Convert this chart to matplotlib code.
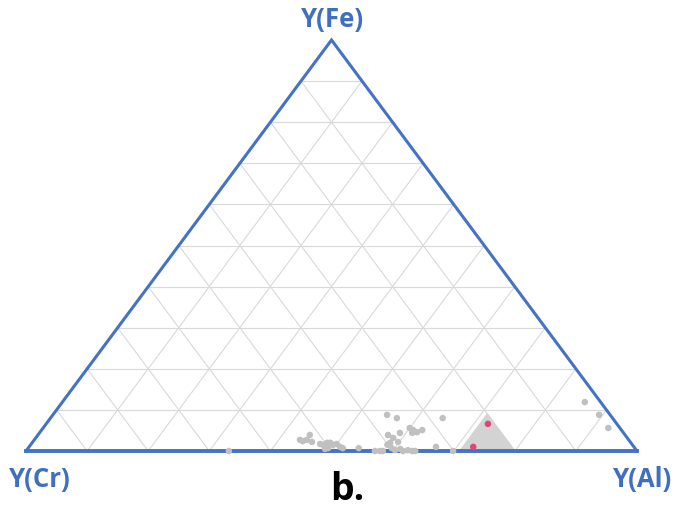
import matplotlib
matplotlib.use('Agg')
import matplotlib.pyplot as plt
import numpy as np

# ternary compositions: Y(Al), Y(Fe); Y(Cr) = 1 - Al - Fe
gray_al = [0.435, 0.441, 0.445, 0.457, 0.446, 0.473, 0.479, 0.483, 0.488, 0.495,
           0.500, 0.509, 0.515, 0.487, 0.491, 0.541, 0.571, 0.547, 0.567, 0.573,
           0.590, 0.585, 0.600, 0.608, 0.617, 0.623, 0.610, 0.598, 0.586, 0.584,
           0.595, 0.603, 0.610, 0.617, 0.624, 0.632, 0.637, 0.584, 0.666, 0.642,
           0.699, 0.579, 0.855, 0.894, 0.925, 0.332]
gray_fe = [0.027, 0.024, 0.039, 0.022, 0.027, 0.017, 0.015, 0.020, 0.020, 0.015,
           0.017, 0.010, 0.007, 0.005, 0.007, 0.007, 0.000, 0.088, 0.080, 0.039,
           0.044, 0.032, 0.056, 0.051, 0.046, 0.051, 0.044, 0.022, 0.020, 0.015,
           0.007, 0.002, 0.005, 0.000, 0.002, 0.000, 0.000, 0.000, 0.010, 0.080,
           0.000, 0.000, 0.119, 0.088, 0.056, 0.000]
pink_al = [0.723, 0.727]
pink_fe = [0.066, 0.010]
# shaded field: Al >= 0.71, Cr >= 0.2
field_al = [0.71, 0.80, 0.71]
field_fe = [0.00, 0.00, 0.09]


def xy(al, fe):
    al = np.asarray(al, float)
    fe = np.asarray(fe, float)
    return al + fe / 2, fe


W, H = 684, 516
fig = plt.figure(figsize=(W / 100, H / 100), dpi=100)
left, right, top, base = 26, 637, 40, 451
ax = fig.add_axes([left / W, (H - base) / H, (right - left) / W, (base - top) / H])
ax.set_xlim(0, 1)
ax.set_ylim(0, 1)
ax.axis('off')

gridc = '#d9d9d9'
for k in range(1, 10):
    t = k / 10
    # constant Fe
    x0, y0 = xy(0, t)
    x1, y1 = xy(1 - t, t)
    ax.plot([x0, x1], [y0, y1], color=gridc, lw=0.8, zorder=1)
    # constant Al
    x0, y0 = xy(t, 0)
    x1, y1 = xy(t, 1 - t)
    ax.plot([x0, x1], [y0, y1], color=gridc, lw=0.8, zorder=1)
    # constant Cr
    x0, y0 = xy(1 - t, 0)
    x1, y1 = xy(0, 1 - t)
    ax.plot([x0, x1], [y0, y1], color=gridc, lw=0.8, zorder=1)

fx, fy = xy(field_al, field_fe)
ax.fill(fx, fy, color='#d3d3d3', zorder=2)

blue = '#4472c4'
ax.plot([0, 0.5, 1], [0, 1, 0], color=blue, lw=2.2, zorder=3, clip_on=False,
        solid_joinstyle='miter')
ax.plot([0, 1], [0, 0], color=blue, lw=2.8, zorder=3, clip_on=False)

gx, gy = xy(gray_al, gray_fe)
ax.scatter(gx, gy, s=22, color='#c0c0c0', edgecolors='none', zorder=4, clip_on=False)
px, py = xy(pink_al, pink_fe)
ax.scatter(px, py, s=22, color='#e0457a', edgecolors='none', zorder=5)

font = ['Open Sans', 'DejaVu Sans']
lab = '#3f6fbf'
fig.text(333 / W, 1 - 20 / H, 'Y(Fe)', color=lab, fontsize=18.5, fontweight='bold',
         family=font, ha='center', va='center')
fig.text(40 / W, 1 - 480 / H, 'Y(Cr)', color=lab, fontsize=18.5, fontweight='bold',
         family=font, ha='center', va='center')
fig.text(643 / W, 1 - 480 / H, 'Y(Al)', color=lab, fontsize=18.5, fontweight='bold',
         family=font, ha='center', va='center')
fig.text(347 / W, 1 - 490 / H, 'b.', color='black', fontsize=27, fontweight='bold',
         family=font, ha='center', va='center')

fig.savefig('out.png', dpi=100, facecolor='white')
